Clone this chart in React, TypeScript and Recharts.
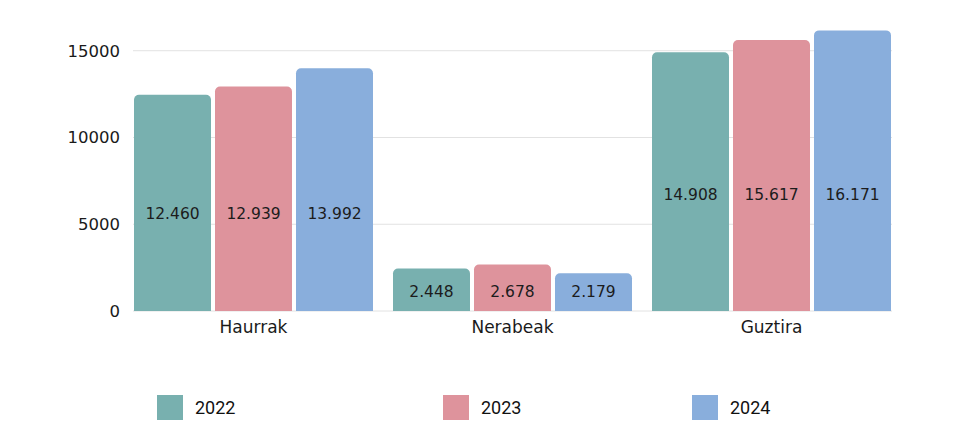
import React from 'react';
import { BarChart, Bar, XAxis, YAxis, CartesianGrid, LabelList } from 'recharts';

const categories = ['Haurrak', 'Nerabeak', 'Guztira'];
const years = ['2022', '2023', '2024'];
const values2022 = [12460, 2448, 14908];
const values2023 = [12939, 2678, 15617];
const values2024 = [13992, 2179, 16171];
const yTicks = [0, 5000, 10000, 15000];

const seriesValues = [values2022, values2023, values2024];
const colors = ['#78b0af', '#de939c', '#89aedc'];
const legendX = [157, 443, 692];

const data = categories.map((name, i) => {
  const row: Record<string, any> = { name };
  years.forEach((y, s) => {
    row['y' + y] = seriesValues[s][i];
  });
  return row;
});

const fmt = (v: number) => String(v).replace(/\B(?=(\d{3})+(?!\d))/g, '.');

const FONT = '"DejaVu Sans", sans-serif';

const renderLabel = (props: any) => {
  const { x, y, width, height, value, index } = props;
  if (!value || !height) return null;
  const base = y + height;
  const pxPerUnit = height / value;
  const ly = base - 0.45 * values2022[index] * pxPerUnit;
  return (
    <text
      x={x + width / 2}
      y={ly}
      textAnchor="middle"
      dominantBaseline="central"
      fontFamily={FONT}
      fontSize={15.5}
      fill="#1c1c1c"
    >
      {fmt(value)}
    </text>
  );
};

export default function App() {
  return (
    <div style={{ position: 'absolute', left: 0, top: 0, width: 962, height: 437, background: '#fff' }}>
      <BarChart
        width={962}
        height={437}
        data={data}
        margin={{ top: 16, right: 70, bottom: 96, left: 0 }}
        barGap={4}
        barCategoryGap={10}
      >
        <CartesianGrid horizontal vertical={false} stroke="#e2e2e2" horizontalValues={yTicks} />
        <XAxis
          dataKey="name"
          axisLine={false}
          tickLine={false}
          tickSize={0}
          tickMargin={10}
          height={30}
          padding={{ left: -9, right: -9 }}
          tick={{ fontFamily: FONT, fontSize: 17, fill: '#1a1a1a' }}
        />
        <YAxis
          width={133}
          domain={[0, 17000]}
          ticks={yTicks}
          axisLine={false}
          tickLine={false}
          tickSize={0}
          tickMargin={13}
          tick={{ fontFamily: FONT, fontSize: 16.5, fill: '#1a1a1a' }}
        />
        {years.map((y, s) => (
          <Bar
            key={y}
            dataKey={'y' + y}
            name={y}
            fill={colors[s]}
            radius={[5, 5, 0, 0]}
            isAnimationActive={false}
          >
            <LabelList dataKey={'y' + y} content={renderLabel} />
          </Bar>
        ))}
      </BarChart>
      {years.map((y, s) => (
        <div
          key={y}
          style={{
            position: 'absolute',
            left: legendX[s],
            top: 395,
            height: 25,
            display: 'flex',
            alignItems: 'center',
          }}
        >
          <div style={{ width: 26, height: 25, background: colors[s] }} />
          <span
            style={{
              marginLeft: 12,
              fontFamily: 'Roboto, sans-serif',
              fontSize: 18,
              color: '#111',
              lineHeight: '25px',
            }}
          >
            {y}
          </span>
        </div>
      ))}
    </div>
  );
}
